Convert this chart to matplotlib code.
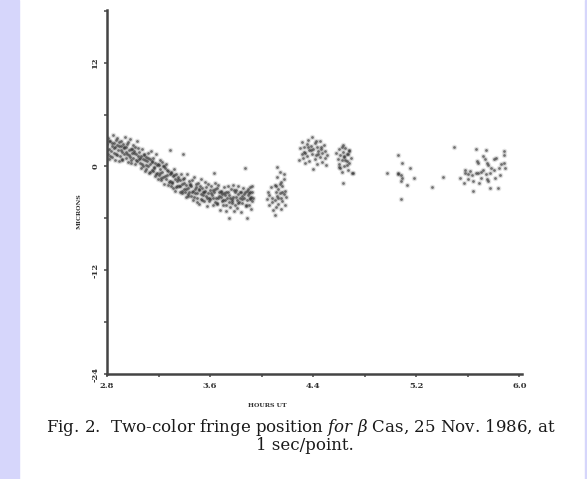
import numpy as np
import matplotlib.pyplot as plt
from matplotlib.patches import Rectangle

plt.rcParams['font.family'] = 'DejaVu Serif'
plt.rcParams['mathtext.fontset'] = 'dejavuserif'

# fringe position (microns) against hours UT, cluster by cluster
hours_a = [2.800, 2.806, 2.809, 2.815, 2.818, 2.824, 2.829, 2.835, 2.839, 2.846,
           2.851, 2.855, 2.861, 2.864, 2.870, 2.874, 2.879, 2.884, 2.890, 2.895,
           2.900, 2.905, 2.911, 2.914, 2.920, 2.925, 2.929, 2.934, 2.940, 2.946,
           2.950, 2.956, 2.960, 2.965, 2.971, 2.975, 2.980, 2.986, 2.990, 2.996,
           3.001, 3.005, 3.010, 3.016, 3.020, 3.025, 3.031, 3.035, 3.040, 3.045,
           3.050, 3.056, 3.061, 3.065, 3.070, 3.076, 3.080, 3.085, 3.091, 3.095,
           3.100, 3.104, 3.110, 3.115, 3.121, 3.125, 3.130, 3.136, 3.140, 3.146,
           3.151, 3.155, 3.160, 3.166, 3.170, 3.174, 3.180, 3.185, 3.190, 3.195,
           3.200, 3.206, 3.210, 3.215, 3.220, 3.226, 3.230, 3.235, 3.241, 3.245,
           3.250, 3.255, 3.261, 3.265, 3.270, 3.276, 3.290, 3.285, 3.290, 3.296,
           3.300, 3.305, 3.311, 3.315, 3.320, 3.326, 3.330, 3.335, 3.340, 3.346,
           3.350, 3.356, 3.390, 3.365, 3.370, 3.376, 3.380, 3.385, 3.391, 3.395,
           3.400, 3.405, 3.410, 3.416, 3.420, 3.425, 3.430, 3.436, 3.440, 3.445,
           3.451, 3.455, 3.460, 3.465, 3.471, 3.475, 3.480, 3.486, 3.490, 3.495,
           3.500, 3.505, 3.511, 3.515, 3.520, 3.526, 3.530, 3.535, 3.540, 3.546,
           3.550, 3.556, 3.560, 3.565, 3.570, 3.575, 3.581, 3.585, 3.590, 3.596,
           3.600, 3.605, 3.630, 3.615, 3.620, 3.626, 3.630, 3.635, 3.640, 3.645,
           3.651, 3.655, 3.660, 3.665, 3.670, 3.675, 3.681, 3.685, 3.690, 3.696,
           3.700, 3.705, 3.710, 3.716, 3.720, 3.725, 3.730, 3.750, 3.740, 3.745,
           3.750, 3.755, 3.760, 3.766, 3.770, 3.775, 3.780, 3.785, 3.790, 3.795,
           3.800, 3.805, 3.811, 3.815, 3.820, 3.825, 3.830, 3.836, 3.840, 3.845,
           3.850, 3.856, 3.870, 3.865, 3.870, 3.875, 3.890, 3.885, 3.890, 3.895,
           3.900, 3.903, 3.906, 3.910, 3.913, 3.916, 3.920, 3.923, 3.926, 3.930,
           2.802, 2.813, 2.827, 2.838, 2.852, 2.868, 2.881, 2.893, 2.907, 2.918,
           2.932, 2.947, 2.958, 2.973, 2.988, 2.997,
           3.012, 3.027, 3.043, 3.058, 3.071, 3.088, 3.102, 3.117, 3.133, 3.148,
           3.162, 3.177, 3.193, 3.208, 3.222, 3.238, 3.252, 3.268, 3.283, 3.297,
           3.308, 3.322, 3.338, 3.352, 3.367, 3.383, 3.398, 3.412, 3.427, 3.443,
           3.458, 3.472, 3.487, 3.502, 3.517, 3.532, 3.548, 3.562, 3.577, 3.592,
           3.607, 3.622, 3.637, 3.652, 3.667, 3.683, 3.697, 3.712, 3.727, 3.742,
           3.757, 3.772, 3.787, 3.802, 3.817, 3.832, 3.847, 3.862, 3.877, 3.892,
           3.907, 3.922]
microns_a = [2.6, 1.4, 3.3, 2.0, 0.9, 2.9, 1.8, 2.4, 1.1, 3.6,
             1.6, 2.7, 0.8, 2.2, 3.1, 1.3, 2.5, 1.9, 0.6, 2.8,
             1.2, 2.4, 3.0, 1.7, 0.7, 2.6, 1.5, 2.1, 3.4, 1.0,
             2.3, 1.4, 0.5, 2.8, 1.9, 1.1, 3.2, 2.0, 0.8, 1.6,
             2.5, 1.0, 1.8, 0.3, 2.2, 1.4, 0.6, 2.9, 1.2, 0.9,
             1.7, 0.4, 1.2, -0.2, 2.0, 0.9, 0.1, 1.4, -0.5, 0.7,
             1.1, -0.3, 0.6, 1.6, 0.0, -0.8, 0.9, 0.3, 1.8, -0.4,
             0.6, -0.5, 1.0, -0.1, -1.1, 0.4, 1.5, -0.7, 0.2, -1.4,
             0.2, -1.0, -0.3, 0.8, -1.6, -0.6, 0.5, -1.2, -2.0, 0.1,
             -0.2, -1.4, 0.3, -1.0, -2.1, -0.5, 1.9, -1.7, -0.9, -2.3,
             -0.6, -1.9, -1.1, -2.5, -0.3, -1.5, -2.8, -0.9, -1.7, -2.2,
             -1.2, -2.3, 1.5, -1.6, -2.9, -0.9, -2.0, -3.1, -1.4, -2.6,
             -1.3, -2.9, -2.1, -3.5, -0.9, -2.5, -3.2, -1.7, -3.0, -2.0,
             -2.2, -3.4, -1.6, -2.8, -3.9, -1.2, -2.6, -3.1, -2.0, -4.1,
             -3.6, -1.9, -2.7, -4.3, -2.3, -3.2, -1.5, -3.9, -2.5, -3.0,
             -2.9, -4.0, -1.8, -3.4, -2.4, -4.6, -3.1, -2.0, -3.7, -2.7,
             -3.8, -2.2, -0.8, -3.3, -4.5, -2.7, -3.0, -4.1, -1.9, -3.6,
             -2.5, -4.3, -3.7, -2.1, -3.0, -5.0, -3.5, -2.8, -4.0, -3.2,
             -4.4, -2.4, -3.1, -3.9, -5.2, -2.9, -3.6, -6.0, -2.2, -4.1,
             -3.3, -4.7, -2.6, -3.8, -4.2, -2.1, -3.5, -5.1, -3.0, -4.4,
             -2.7, -3.9, -4.8, -3.2, -2.3, -4.1, -3.6, -5.3, -2.9, -3.4,
             -4.2, -2.5, -0.2, -3.7, -3.0, -4.6, -5.9, -2.8, -3.9, -3.3,
             -3.1, -4.4, -2.4, -3.8, -2.9, -4.9, -3.5, -2.2, -4.0, -3.6,
             1.9, 3.0, 1.2, 2.7, 2.1, 1.5, 3.3, 2.4, 1.9, 0.9,
             2.3, 1.7, 2.6, 1.3, 0.4, 2.0,
             1.6, 0.7, 2.1, 1.0, 0.3, 1.3, 0.2, 1.0, -0.6, 0.5,
             -0.2, -0.9, 0.3, -0.7, -1.3, 0.0, -1.1, -0.4, -1.8, -0.8,
             -1.8, -1.0, -2.4, -1.5, -2.2, -2.8, -1.9, -2.6, -3.4, -2.1,
             -2.9, -3.5, -2.4, -3.1, -2.6, -3.8, -3.3, -2.8, -3.6, -4.0,
             -3.1, -3.7, -2.6, -4.2, -3.4, -2.9, -3.9, -3.3, -4.4, -3.0,
             -3.7, -4.0, -2.7, -3.5, -4.2, -3.0, -3.8, -3.2, -4.5, -2.6,
             -3.7, -3.0]

hours_b = [4.04, 4.05, 4.06, 4.06, 4.07, 4.08, 4.08, 4.09, 4.10, 4.10, 4.11, 4.11,
           4.12, 4.12, 4.13, 4.13, 4.14, 4.14, 4.15, 4.15, 4.16, 4.16, 4.17, 4.17,
           4.18, 4.18, 4.19, 4.10, 4.12, 4.14, 4.16, 4.13, 4.11, 4.15, 4.17]
microns_b = [-3.8, -2.9, -4.5, -3.3, -2.4, -4.1, -3.6, -5.0, -2.1, -3.9, -3.0, -4.7,
             -1.2, -3.4, -2.6, -4.3, -0.6, -3.1, -1.8, -3.7, -2.3, -4.0, -1.5, -3.2,
             -2.8, -4.4, -3.5, -5.6, -0.1, -2.0, -3.0, -3.6, -2.2, -4.9, -0.9]

hours_c = [4.29, 4.30, 4.31, 4.31, 4.32, 4.33, 4.33, 4.34, 4.35, 4.35, 4.36, 4.37,
           4.37, 4.38, 4.39, 4.39, 4.40, 4.41, 4.41, 4.42, 4.43, 4.43, 4.44, 4.45,
           4.45, 4.46, 4.47, 4.47, 4.48, 4.49, 4.49, 4.50, 4.51, 4.34, 4.38, 4.42,
           4.46, 4.40, 4.36, 4.44]
microns_c = [0.8, 2.1, 1.4, 2.8, 1.0, 2.3, 1.7, 0.4, 2.6, 1.2, 3.1, 1.9,
             0.6, 2.4, 1.5, 3.4, 2.0, 0.9, 2.7, 1.3, 2.2, 0.3, 1.8, 2.9,
             1.1, 2.0, 0.5, 1.6, 2.5, 1.0, 1.8, 0.2, 1.3, 1.6, 1.9, 3.0,
             2.2, -0.3, 2.3, 1.4]

hours_d = [4.58, 4.59, 4.60, 4.60, 4.61, 4.62, 4.62, 4.63, 4.64, 4.64, 4.65, 4.66,
           4.66, 4.67, 4.68, 4.68, 4.69, 4.70, 4.61, 4.63, 4.65, 4.67, 4.62, 4.64,
           4.66, 4.60, 4.68, 4.71, 4.63]
microns_d = [1.6, 0.9, 2.0, 0.3, 1.3, 2.3, 0.7, 1.7, 0.1, 1.1, 2.1, 0.6,
             1.4, -0.4, 1.8, 0.4, 1.0, -0.8, -0.2, 2.5, 0.8, 1.5, -0.6, 1.2,
             0.2, -0.1, 1.9, -0.7, -1.9]

hours_e = [5.06, 5.09, 4.97, 5.06, 5.15, 5.08, 5.09, 5.18, 5.13, 5.08,
           5.32, 5.41, 5.49, 5.06, 5.08]
microns_e = [1.28, 0.46, -0.70, -0.70, -0.23, -1.62, -1.28, -1.28, -2.09, -3.71,
             -2.32, -1.16, 2.20, -0.90, -1.00]

hours_f = [5.66, 5.74, 5.88, 5.72, 5.67, 5.75, 5.80, 5.88, 5.76, 5.84, 5.58, 5.66,
           5.68, 5.77, 5.89, 5.54, 5.60, 5.64, 5.70, 5.75, 5.81, 5.64, 5.77, 5.83,
           5.58, 5.63, 5.72, 5.80, 5.85, 5.88, 5.68, 5.57, 5.70, 5.74, 5.78, 5.62,
           5.86, 5.82, 5.69, 5.76, 5.60, 5.73]
microns_f = [1.97, 1.86, 1.74, 1.16, 0.58, 0.46, 0.81, 0.46, 0.12, -0.12, -0.35, -0.70,
             -0.81, -0.81, -0.12, -1.28, -1.39, -1.62, -1.28, -1.39, -1.28, -2.79, -2.44, -2.44,
             -0.81, -1.04, -0.35, -0.46, -1.04, 1.28, 0.35, -1.86, -0.60, -0.90, -0.20, -0.50,
             0.30, 1.00, -1.90, -1.70, -0.90, 0.90]

x_ticks = [2.8, 3.6, 4.4, 5.2, 6.0]
x_labels = ['2.8', '3.6', '4.4', '5.2', '6.0']
y_ticks = [-24, -12, 0, 12]
y_labels = ['-24', '-12', '0', '12']

hours = np.concatenate([hours_a, hours_b, hours_c, hours_d, hours_e, hours_f])
microns = np.concatenate([microns_a, microns_b, microns_c, microns_d, microns_e, microns_f])

fig = plt.figure(figsize=(5.87, 4.79), dpi=100)
fig.patches.append(Rectangle((0, 0), 19 / 587, 1, transform=fig.transFigure,
                             color='#d6d6fb', zorder=0))
fig.patches.append(Rectangle((585 / 587, 0), 2 / 587, 1, transform=fig.transFigure,
                             color='#d6d6fb', zorder=0))

ax = fig.add_axes([107 / 587, 105 / 479, 415 / 587, 364 / 479])
# soft halo + darker core to mimic the blurred scan dots
ax.scatter(hours, microns, s=16, color='#555555', alpha=0.18, linewidths=0)
ax.scatter(hours, microns, s=4, color='#2a2a2a', alpha=0.6, linewidths=0)

ax.set_xlim(2.8, 6.02)
ax.set_ylim(-24, 18.1)
for s in ['top', 'right']:
    ax.spines[s].set_visible(False)
for s in ['left', 'bottom']:
    ax.spines[s].set_linewidth(1.8)
    ax.spines[s].set_color('#444444')

ax.set_xticks(x_ticks)
ax.set_xticklabels(x_labels, fontsize=6, fontweight='bold', color='#333333')
ax.set_xticks([3.2, 4.0, 4.8, 5.6], minor=True)
ax.set_yticks(y_ticks)
ax.set_yticklabels(y_labels, fontsize=6, fontweight='bold', color='#333333',
                   rotation=90, va='center')
ax.set_yticks([-18, -6, 6, 18], minor=True)
ax.tick_params(which='both', length=2.5, width=1.2, color='#555555', direction='out', pad=3)

ax.set_xlabel('HOURS UT', fontsize=4.5, fontweight='bold', color='#333333')
ax.xaxis.set_label_coords((267 - 107) / 415, -(403 - 374) / 364)
ax.set_ylabel('MICRONS', fontsize=4.5, fontweight='bold', color='#333333')
ax.yaxis.set_label_coords(-(107 - 82) / 415, (374 - 211) / 364)

fig.text(301 / 587, 1 - 427 / 479,
         r'Fig. 2.  Two-color fringe position $\mathit{for}$ $\mathit{\beta}$ Cas, 25 Nov. 1986, at',
         ha='center', va='center', fontsize=12, color='#1a1a1a')
fig.text(305 / 587, 1 - 446 / 479, '1 sec/point.',
         ha='center', va='center', fontsize=12, color='#1a1a1a')

plt.savefig('out.png', dpi=100)
